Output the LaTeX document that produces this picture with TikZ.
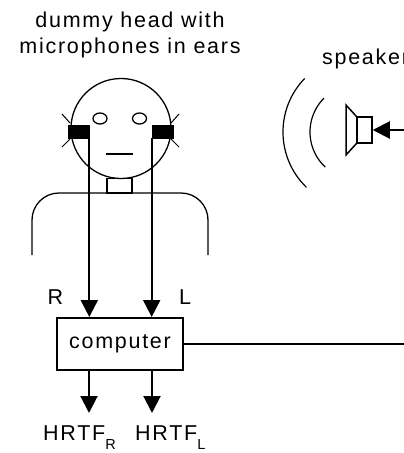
\documentclass[tikz,border=0pt]{standalone}
\usepackage{fontspec}
\setmainfont{Liberation Sans}[LetterSpace=8]
\usetikzlibrary{arrows.meta}
\begin{document}
\begin{tikzpicture}[x=1pt,y=1pt,
  outline/.style={line width=1.3pt},
  wire/.style={line width=2pt},
  sig/.style={wire,-{Triangle[width=17pt,length=17pt]}},
  lbl/.style={inner sep=0pt,font=\fontsize{21.5}{26}\selectfont},
  earpiece/.style={fill=black,draw=black,line width=0.6pt,minimum width=21pt,minimum height=13pt,inner sep=0pt},
  cpubox/.style={draw,line width=2pt,minimum width=126pt,minimum height=52pt,inner sep=0pt,font=\fontsize{21.5}{26}\selectfont}]
\useasboundingbox (0,0) rectangle (404,-453);

% captions
\node[lbl,align=center,anchor=north] (caption) at (130,-11.5) {dummy head with\\microphones in ears};
\node[lbl,anchor=base west] (spkcap) at (322,-64) {speaker};

% dummy head
\node[circle,draw,outline,minimum size=100pt,inner sep=0pt] (head) at (121,-128.5) {};
\draw[outline] (100,-118.5) ellipse[x radius=7pt,y radius=5.5pt];
\draw[outline] (139.5,-118.5) ellipse[x radius=7pt,y radius=5.5pt];
\draw[outline] (106,-154) -- (133,-154);
\draw[outline] (107,-178.5) rectangle (132,-193);
\draw[outline,rounded corners=27pt] (32,-255) -- (32,-193) -- (208,-193) -- (208,-255);

% microphones in the ears
\node[earpiece] (earR) at (78.5,-131.5) {};
\node[earpiece] (earL) at (162.5,-131.5) {};
\draw[line width=1pt] (62,-114) -- (70,-123) (62,-147) -- (70,-139);
\draw[line width=1pt] (179,-114) -- (171,-123) (179,-147) -- (171,-139);

% computer and signals
\node[cpubox] (cpu) at (120,-344) {computer};
\draw[sig] (earR.south east) -- (earR.south east |- cpu.north);
\draw[sig] (earL.south west) -- (earL.south west |- cpu.north);
\node[lbl,anchor=base] (chR) at (55.5,-304) {R};
\node[lbl,anchor=base] (chL) at (185,-304) {L};

\coordinate (outR) at (89,-413);
\coordinate (outL) at (152,-413);
\draw[sig] (outR |- cpu.south) -- (outR);
\draw[sig] (outL |- cpu.south) -- (outL);
\node[lbl,anchor=base west] (hrtfR) at (43,-440) {HRTF\raisebox{-9pt}{\fontsize{14.5}{15}\selectfont R}};
\node[lbl,anchor=base west] (hrtfL) at (135,-440) {HRTF\raisebox{-9pt}{\fontsize{14.5}{15}\selectfont L}};

\coordinate (cableA) at (410,-344);
\draw[wire] (cpu.east) -- (cableA);

% loudspeaker
\node[draw,line width=1.5pt,minimum width=15pt,minimum height=26pt,inner sep=0pt] (magnet) at (364.5,-130) {};
\draw[line width=1.5pt,line join=miter] (magnet.north west) -- (346,-105) -- (346,-155) -- (magnet.south west);
\coordinate (cableB) at (410,-130);
\draw[sig] (cableB) -- (magnet.east);

% sound waves
\draw[line width=1.2pt] (360,-132) ++(136:77pt) arc[start angle=136,end angle=226,radius=77pt];
\draw[line width=1.2pt] (358,-132) ++(135:48pt) arc[start angle=135,end angle=227,radius=48pt];
\end{tikzpicture}
\end{document}
